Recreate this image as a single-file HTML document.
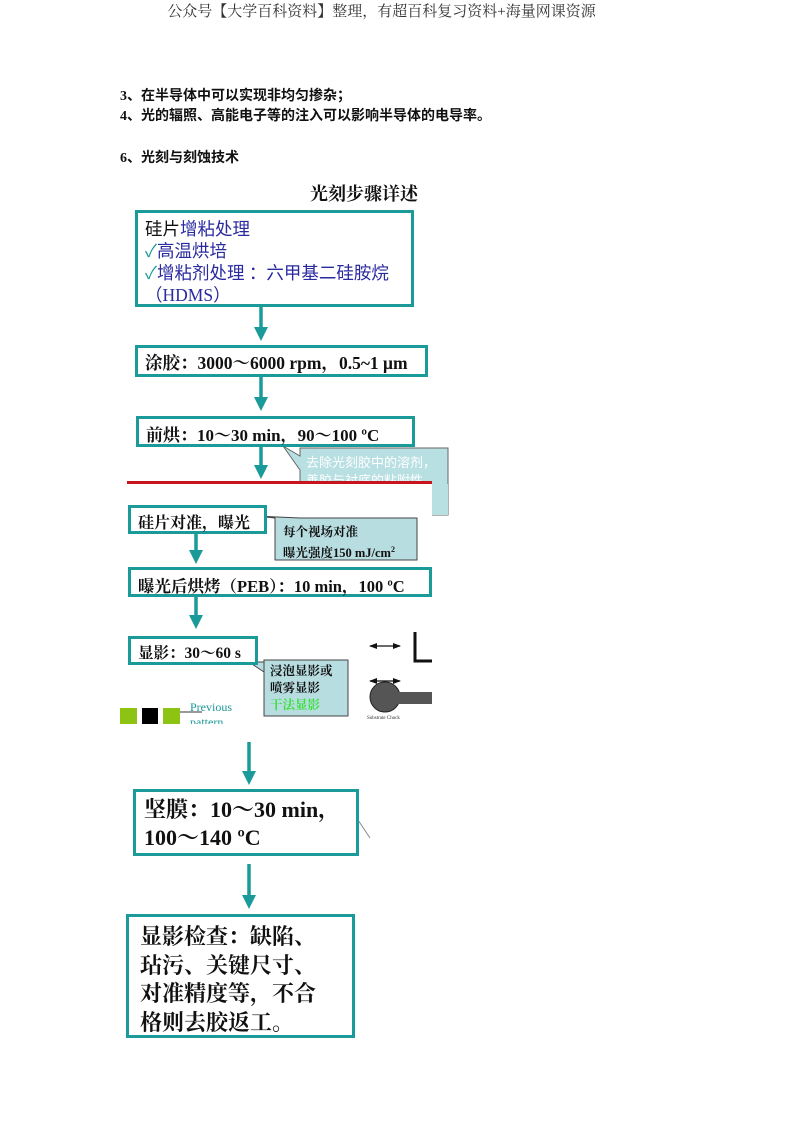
<!DOCTYPE html>
<html><head><meta charset="utf-8"><style>
body{margin:0;width:793px;height:1122px;position:relative;background:#fff;overflow:hidden;font-family:"Liberation Serif","Noto Serif CJK SC",serif;color:#111}
.a{position:absolute;white-space:nowrap}
.b{position:absolute;border:3px solid #1a9a98;box-sizing:border-box;background:#fff}
.bold{font-weight:bold}
.sm{font-size:14px;font-weight:bold;font-family:"Liberation Serif","Noto Sans CJK SC",serif}
.blue{color:#2a2aa0}
</style></head><body>
<div class="a" style="left:0;width:763px;text-align:center;top:0px;font-size:15px;color:#333;font-family:'Liberation Serif','Noto Serif CJK SC',serif">公众号【大学百科资料】整理，有超百科复习资料+海量网课资源</div>
<div class="a sm" style="left:120px;top:85px">3、在半导体中可以实现非均匀掺杂；</div>
<div class="a sm" style="left:120px;top:105px">4、光的辐照、高能电子等的注入可以影响半导体的电导率。</div>
<div class="a sm" style="left:120px;top:147px">6、光刻与刻蚀技术</div>
<div class="a bold" style="left:310px;top:180px;font-size:18px;font-family:'Liberation Serif','Noto Serif CJK SC',serif">光刻步骤详述</div>

<svg class="a" style="left:0;top:0" width="793" height="1122">
<defs><marker id="m" markerWidth="4" markerHeight="4" refX="2" refY="2" orient="auto" markerUnits="strokeWidth"><path d="M0,0L4,2L0,4z" fill="#1a9a98"/></marker></defs>
<g stroke="#1a9a98" stroke-width="3.5" fill="none">
<line x1="261" y1="306" x2="261" y2="334" marker-end="url(#m)"/>
<line x1="261" y1="376" x2="261" y2="404" marker-end="url(#m)"/>
<line x1="261" y1="446" x2="261" y2="472" marker-end="url(#m)"/>
<line x1="196" y1="533" x2="196" y2="557" marker-end="url(#m)"/>
<line x1="196" y1="597" x2="196" y2="622" marker-end="url(#m)"/>
<line x1="249" y1="742" x2="249" y2="778" marker-end="url(#m)"/>
<line x1="249" y1="864" x2="249" y2="902" marker-end="url(#m)"/>
</g>
<path d="M300,448 L300,456 L283,446 L300,470 L300,515 L448,515 L448,448 Z" fill="#b8dfe2" stroke="#666"/>
</svg>
<div class="a" style="left:306px;top:453px;font-size:13px;color:#fff;font-family:'Noto Sans CJK SC',sans-serif;line-height:18px">去除光刻胶中的溶剂，<br>善胶与衬底的粘附性，<br>　　　　　　　　时</div>

<div class="b" style="left:135px;top:210px;width:279px;height:97px;padding:5px 0 0 7px;font-size:17.5px;line-height:22px;font-family:'Liberation Serif','Noto Sans CJK SC',sans-serif">硅片<span class="blue">增粘处理</span><br><span style="color:#1a9a98">✓</span><span class="blue">高温烘培</span><br><span style="color:#1a9a98">✓</span><span class="blue">增粘剂处理 ：六甲基二硅胺烷</span><br><span class="blue">（HDMS）</span></div>
<div class="b bold" style="left:135px;top:345px;width:293px;height:32px;padding:2px 0 0 7px;font-size:17.5px">涂胶：3000～6000 rpm，0.5~1 μm</div>
<div class="b bold" style="left:136px;top:416px;width:279px;height:31px;padding:2px 0 0 7px;font-size:17px">前烘：10～30 min，90～100 ºC</div>

<div class="a" style="left:127px;top:484px;width:305px;height:40px;background:#fff"></div>
<div class="a" style="left:432px;top:484px;width:16px;height:31px;background:#b8dfe2"></div>
<div class="a" style="left:127px;top:481px;width:305px;height:3px;background:#c8141e"></div>

<svg class="a" style="left:0;top:0" width="793" height="1122">
<defs><marker id="k2" markerWidth="8" markerHeight="6" refX="7" refY="3" orient="auto-start-reverse" markerUnits="userSpaceOnUse"><path d="M0,0L8,3L0,6z" fill="#111"/></marker></defs>
<path d="M255,516 L275,518 L275,560 L417,560 L417,518 L300,518 Z" fill="#b8dde0" stroke="#444"/>
<path d="M249,662 L264,662 L264,716 L348,716 L348,660 L264,660 L264,672 Z" fill="#b8dde0" stroke="#444"/>
<g stroke="#111" stroke-width="1.2"><line x1="370" y1="646" x2="400" y2="646" marker-start="url(#k2)" marker-end="url(#k2)"/><line x1="370" y1="681" x2="400" y2="681" marker-start="url(#k2)" marker-end="url(#k2)"/></g>
<path d="M415,632 L415,661 L432,661" stroke="#111" stroke-width="3" fill="none"/>
<circle cx="385" cy="697" r="15" fill="#555" stroke="#222"/>
<rect x="398" y="692" width="34" height="12" fill="#555"/>
<rect x="120" y="708" width="17" height="16" fill="#8dc414"/>
<rect x="142" y="708" width="16" height="16" fill="#000"/>
<rect x="163" y="708" width="17" height="16" fill="#8dc414"/>
<line x1="180" y1="712" x2="202" y2="712" stroke="#333"/>
<path d="M358,820 L370,838" stroke="#888" stroke-width="1"/>
</svg>
<div class="a bold" style="left:283px;top:524px;font-size:12.5px;line-height:17px">每个视场对准<br>曝光强度150 mJ/cm<sup style="font-size:8px">2</sup></div>
<div class="a bold" style="left:270px;top:663px;font-size:12.5px;line-height:17px">浸泡显影或<br>喷雾显影<br><span style="color:#3ce03c">干法显影</span></div>
<div class="a" style="left:190px;top:700px;font-size:12px;color:#1a9a98;line-height:15px">Previous<br>pattern</div>
<div class="a" style="left:367px;top:716px;font-size:5px;color:#333">Substrate Chuck</div>
<div class="a" style="left:115px;top:724px;width:330px;height:16px;background:#fff"></div>

<div class="b bold" style="left:128px;top:505px;width:139px;height:29px;padding:2px 0 0 7px;font-size:16px">硅片对准，曝光</div>
<div class="b bold" style="left:128px;top:567px;width:304px;height:30px;padding:3px 0 0 7px;font-size:16.5px">曝光后烘烤（PEB）：10 min，100 ºC</div>
<div class="b bold" style="left:128px;top:636px;width:130px;height:29px;padding:2px 0 0 7px;font-size:15.5px">显影：30～60 s</div>

<div class="b bold" style="left:133px;top:789px;width:226px;height:67px;padding:4px 0 0 8px;font-size:22px;line-height:28px">坚膜：10～30 min，<br>100～140 ºC</div>
<div class="b bold" style="left:126px;top:914px;width:229px;height:124px;padding:6px 0 0 11px;font-size:22px;line-height:28.5px">显影检查：缺陷、<br>玷污、关键尺寸、<br>对准精度等，不合<br>格则去胶返工。</div>
</body></html>
